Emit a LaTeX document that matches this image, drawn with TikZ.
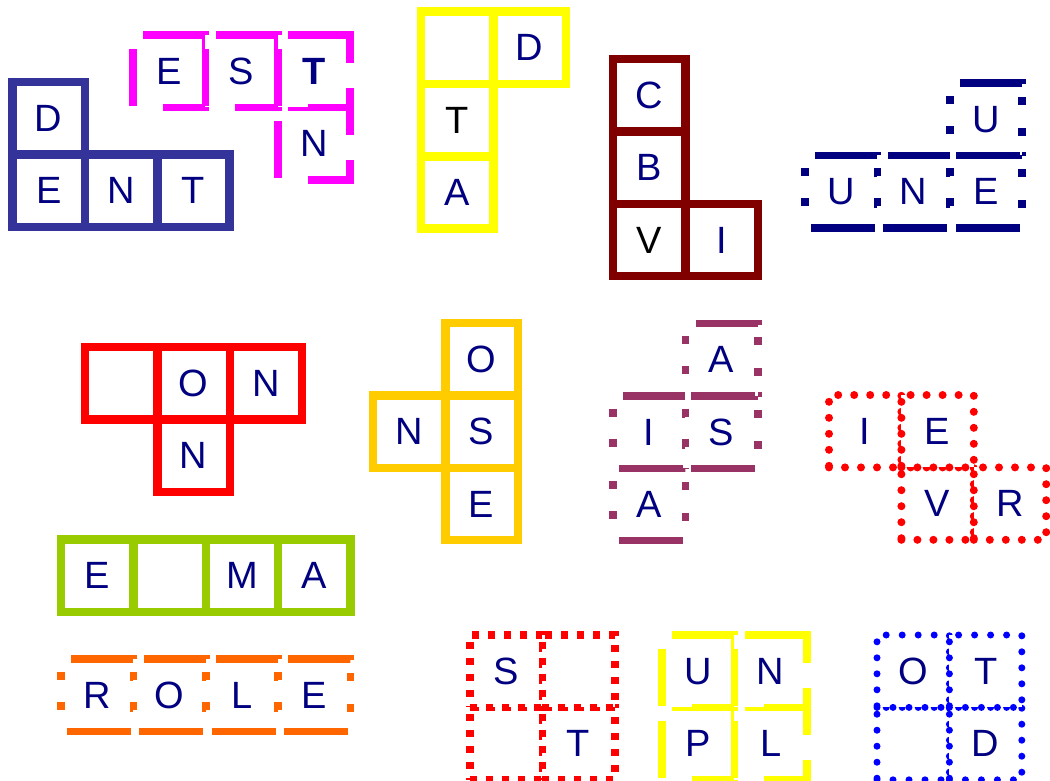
\documentclass[tikz,border=0pt]{standalone}
\usepackage{fontspec}
\setmainfont{Liberation Sans}
\usetikzlibrary{positioning}

\definecolor{ink}{HTML}{000080}
\definecolor{dentblue}{HTML}{333399}
\definecolor{estpink}{HTML}{FF00FF}
\definecolor{sunyellow}{HTML}{FFFF00}
\definecolor{darkred}{HTML}{800000}
\definecolor{navyblue}{HTML}{000080}
\definecolor{brightred}{HTML}{FF0000}
\definecolor{amber}{HTML}{FFCC00}
\definecolor{leafgreen}{HTML}{99CC00}
\definecolor{pumpkin}{HTML}{FF6600}
\definecolor{mauve}{HTML}{993366}
\definecolor{pureblue}{HTML}{0000FF}

\newcommand{\cellfont}{\fontsize{38}{40}\selectfont}

\tikzset{
    cell/.style={draw, fill=white, minimum size=72.4pt, inner sep=0pt,
        text=ink, font=\cellfont},
    solidcell/.style={cell, draw=#1, line width=8.5pt},
    longdashcell/.style={cell, draw=#1, line width=7.5pt,
        dash pattern=on 62pt off 25pt on 90pt off 24pt on 57pt off 30pt,
        dash phase=258pt},
    dotdashcell/.style={cell, draw=#1, line width=7.5pt,
        dash pattern=on 64pt off 22pt on 8pt off 23pt on 8pt off 13pt
            on 63pt off 23pt on 8pt off 22pt on 8pt off 26pt,
        dash phase=282pt},
    squaredotcell/.style={cell, draw=#1, line width=7.5pt,
        dash pattern=on 7pt off 9pt},
    rounddotcell/.style={cell, draw=#1, line width=8pt, line cap=round,
        dash pattern=on 0pt off 16pt}
}

\begin{document}
\begin{tikzpicture}[x=1pt,y=-1pt]
    \useasboundingbox (0,0) rectangle (1050,780);

    % DENT
    \begin{scope}[shift={(12.5,82)}, x=72.4pt, y=-72.4pt]
        \foreach \n/\i/\j/\l in {d/0/0/D, e/0/1/E, n/1/1/N, t/2/1/T}{
            \node[solidcell=dentblue] (dent-\n) at (\i+0.5,\j+0.5) {\l};
        }
    \end{scope}

    % EST + N
    \begin{scope}[shift={(133,35)}, x=72.4pt, y=-72.4pt]
        \foreach \n/\i/\j/\l in {n/2/1/N, e/0/0/E, s/1/0/S, t/2/0/{\textbf{T}}}{
            \node[longdashcell=estpink] (est-\n) at (\i+0.5,\j+0.5) {\l};
        }
    \end{scope}

    % _D / T / A
    \begin{scope}[shift={(421,11.5)}, x=72.4pt, y=-72.4pt]
        \foreach \n/\i/\j/\l in {blank/0/0/{}, d/1/0/D, t/0/1/{\color{black}T}, a/0/2/A}{
            \node[solidcell=sunyellow] (dta-\n) at (\i+0.5,\j+0.5) {\l};
        }
    \end{scope}

    % C / B / VI
    \begin{scope}[shift={(613,59)}, x=72.4pt, y=-72.4pt]
        \foreach \n/\i/\j/\l in {c/0/0/C, b/0/1/B, v/0/2/{\color{black}V}, i/1/2/I}{
            \node[solidcell=darkred] (cbvi-\n) at (\i+0.5,\j+0.5) {\l};
        }
    \end{scope}

    % UNE + U
    \begin{scope}[shift={(805,83)}, x=72.4pt, y=-72.4pt]
        \foreach \n/\i/\j/\l in {u/0/1/U, n/1/1/N, e/2/1/E, top/2/0/U}{
            \node[dotdashcell=navyblue] (une-\n) at (\i+0.5,\j+0.5) {\l};
        }
    \end{scope}

    % _ON / N
    \begin{scope}[shift={(85,347)}, x=72.4pt, y=-72.4pt]
        \foreach \n/\i/\j/\l in {blank/0/0/{}, o/1/0/O, n/2/0/N, low/1/1/N}{
            \node[solidcell=brightred] (onn-\n) at (\i+0.5,\j+0.5) {\l};
        }
    \end{scope}

    % O / NS / E
    \begin{scope}[shift={(373,323)}, x=72.4pt, y=-72.4pt]
        \foreach \n/\i/\j/\l in {o/1/0/O, n/0/1/N, s/1/1/S, e/1/2/E}{
            \node[solidcell=amber] (nose-\n) at (\i+0.5,\j+0.5) {\l};
        }
    \end{scope}

    % E_MA
    \begin{scope}[shift={(61,539.5)}, x=72.4pt, y=-72.4pt]
        \foreach \n/\i/\l in {e/0/E, blank/1/{}, m/2/M, a/3/A}{
            \node[solidcell=leafgreen] (ema-\n) at (\i+0.5,0.5) {\l};
        }
    \end{scope}

    % ROLE
    \begin{scope}[shift={(61,659)}, x=72.4pt, y=-72.4pt]
        \foreach \n/\i/\l in {r/0/R, o/1/O, l/2/L, e/3/E}{
            \node[dotdashcell=pumpkin] (role-\n) at (\i+0.5,0.5) {\l};
        }
    \end{scope}

    % A / IS / A
    \begin{scope}[shift={(613,323.5)}, x=72.4pt, y=-72.4pt]
        \foreach \n/\i/\j/\l in {low/0/2/A, i/0/1/I, s/1/1/S, top/1/0/A}{
            \node[dotdashcell=mauve] (aisa-\n) at (\i+0.5,\j+0.5) {\l};
        }
    \end{scope}

    % IE / VR
    \begin{scope}[shift={(829,395)}, x=72.4pt, y=-72.4pt]
        \foreach \n/\i/\j/\l in {v/1/1/V, r/2/1/R, i/0/0/I, e/1/0/E}{
            \node[rounddotcell=brightred] (ievr-\n) at (\i+0.5,\j+0.5) {\l};
        }
    \end{scope}

    % S_ / _T
    \begin{scope}[shift={(470,635)}, x=72.4pt, y=-72.4pt]
        \foreach \n/\i/\j/\l in {lowblank/0/1/{}, t/1/1/T, s/0/0/S, topblank/1/0/{}}{
            \node[squaredotcell=brightred] (stt-\n) at (\i+0.5,\j+0.5) {\l};
        }
    \end{scope}

    % UN / PL
    \begin{scope}[shift={(662,635)}, x=72.4pt, y=-72.4pt]
        \foreach \n/\i/\j/\l in {p/0/1/P, l/1/1/L, u/0/0/U, n/1/0/N}{
            \node[longdashcell=sunyellow] (unpl-\n) at (\i+0.5,\j+0.5) {\l};
        }
    \end{scope}

    % OT / _D
    \begin{scope}[shift={(877,635)}, x=72.4pt, y=-72.4pt]
        \foreach \n/\i/\j/\l in {blank/0/1/{}, d/1/1/D, o/0/0/O, t/1/0/T}{
            \node[rounddotcell=pureblue, line width=7pt] (otd-\n) at (\i+0.5,\j+0.5) {\l};
        }
    \end{scope}
\end{tikzpicture}
\end{document}
